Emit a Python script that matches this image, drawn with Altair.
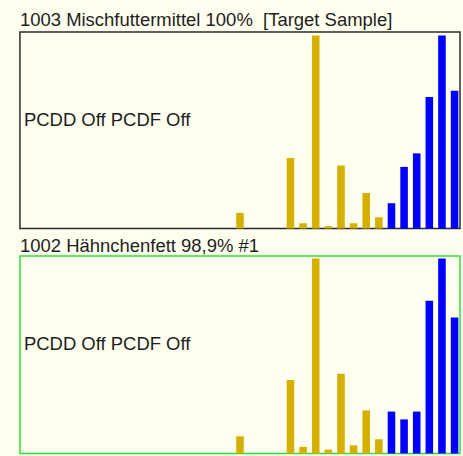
import altair as alt
import pandas as pd

congeners = [
    "2378-TCDD", "12378-PeCDD", "123478-HxCDD", "123678-HxCDD", "123789-HxCDD", "1234678-HpCDD", "OCDD",
    "2378-TCDF", "12378-PeCDF", "23478-PeCDF", "123478-HxCDF", "123678-HxCDF", "123789-HxCDF",
    "234678-HxCDF", "1234678-HpCDF", "1234789-HpCDF", "OCDF",
    "PCB 77", "PCB 81", "PCB 126", "PCB 169", "PCB 105", "PCB 114", "PCB 118", "PCB 123",
    "PCB 156", "PCB 157", "PCB 167", "PCB 189",
    "PCB 28", "PCB 52", "PCB 101", "PCB 138", "PCB 153", "PCB 180",
]
groups = (["PCDD"] * 7) + (["PCDF"] * 10) + (["dl-PCB"] * 12) + (["ndl-PCB"] * 6)

target_values = [
    0, 0, 0, 0, 0, 0, 0,
    0, 0, 0, 0, 0, 0, 0, 0, 0, 0,
    8.1, 0, 0, 0, 36.5, 2.7, 100, 1.2, 32.6, 2.7, 18.4, 5.8,
    13.1, 31.9, 38.9, 68.1, 100, 71.3,
]
sample_values = [
    0, 0, 0, 0, 0, 0, 0,
    0, 0, 0, 0, 0, 0, 0, 0, 0, 0,
    8.8, 0, 0, 0, 37.7, 3.4, 100, 2.0, 40.9, 4.2, 22.1, 7.3,
    21.5, 17.5, 21.5, 78.3, 100, 69.7,
]

group_names = ["PCDD", "PCDF", "dl-PCB", "ndl-PCB"]
group_colors = ["#D5B000", "#D5B000", "#D5B000", "#0000FF"]

titles = ["1003 Mischfuttermittel 100%\u00a0 [Target Sample]", "1002 Hähnchenfett 98,9% #1"]
status_label = "PCDD Off PCDF Off"

BG = "#FFFFF0"
FONT = "Liberation Sans"
TEXT = "#1e1e1e"
FS = 18.5


def panel(values, title, border, ymax, h, offset):
    df = pd.DataFrame({"congener": congeners, "group": groups, "value": values})
    bars = alt.Chart(df).mark_bar().encode(
        x=alt.X("congener:N", sort=congeners, axis=None,
                scale=alt.Scale(paddingInner=0.4, paddingOuter=0.13)),
        y=alt.Y("value:Q", axis=None, scale=alt.Scale(domain=[0, ymax])),
        color=alt.Color("group:N", legend=None,
                        scale=alt.Scale(domain=group_names, range=group_colors)),
    )
    label = alt.Chart(pd.DataFrame({"t": [status_label]})).mark_text(
        align="left", baseline="alphabetic", fontSize=FS, font=FONT, color=TEXT
    ).encode(x=alt.value(4), y=alt.value(94), text="t:N")
    return alt.layer(bars, label).properties(
        width=441, height=h,
        title=alt.TitleParams(title, anchor="start", fontSize=FS, font=FONT,
                              fontWeight="normal", color=TEXT, offset=offset),
        view=alt.ViewBackground(stroke=border, strokeWidth=1.5, fill=BG),
    )


chart = alt.vconcat(
    panel(target_values, titles[0], "#2a2a2a", 101.8, 197, 2),
    panel(sample_values, titles[1], "#33DD33", 101.3, 198, 0),
    spacing=6.5,
).configure(background=BG, padding={"left": 19, "top": 9.5, "right": 2, "bottom": 1})

chart.save("out.html", embed_options={"renderer": "svg", "actions": False})
